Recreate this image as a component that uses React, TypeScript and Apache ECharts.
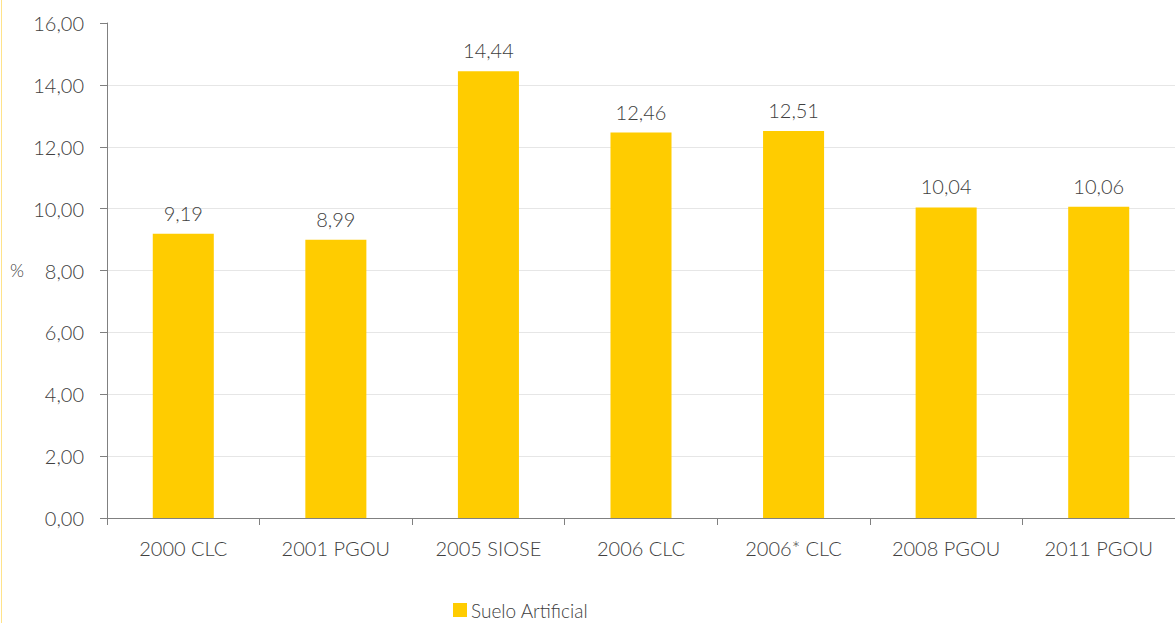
import React, { useEffect, useRef } from "react";
import * as echarts from "echarts";

const categories = ["2000 CLC", "2001 PGOU", "2005 SIOSE", "2006 CLC", "2006* CLC", "2008 PGOU", "2011 PGOU"];
const sueloArtificial = [9.19, 8.99, 14.44, 12.46, 12.51, 10.04, 10.06];
const seriesName = "Suelo Artificial";
const yAxisName = "%";

const FONT = "Lato";
const TEXT = "#404040";

export default function App() {
  const ref = useRef<HTMLDivElement>(null);
  useEffect(() => {
    if (!ref.current) return;
    const chart = echarts.init(ref.current, undefined, { renderer: "svg" });
    const fmt = (v: number) => v.toFixed(2).replace(".", ",");
    chart.setOption({
      animation: false,
      backgroundColor: "#ffffff",
      textStyle: { fontFamily: FONT, fontWeight: 300, color: TEXT },
      grid: { left: 107, right: 0, top: 23, bottom: 105, containLabel: false },
      legend: {
        left: 453,
        top: 600,
        padding: 0,
        itemWidth: 14,
        itemHeight: 14,
        itemGap: 6,
        icon: "rect",
        textStyle: { fontSize: 19, lineHeight: 20, fontFamily: FONT, fontWeight: 300, color: TEXT, padding: [0, 0, 0, -1] },
        data: [seriesName],
      },
      graphic: [
        {
          type: "line",
          shape: { x1: 1.5, y1: 0, x2: 1.5, y2: 623 },
          style: { stroke: "#ffe38a", lineWidth: 1 },
        },
        {
          type: "text",
          left: 10,
          top: 261,
          style: { text: yAxisName, fontSize: 18, fontFamily: FONT, fontWeight: 300, fill: TEXT },
        },
      ],
      xAxis: {
        type: "category",
        data: categories,
        axisLine: { lineStyle: { color: "#808080", width: 1 } },
        axisTick: { show: true, length: 7, alignWithLabel: false, lineStyle: { color: "#808080" } },
        axisLabel: { fontSize: 20, color: TEXT, fontFamily: FONT, fontWeight: 300, margin: 20 },
      },
      yAxis: {
        type: "value",
        min: 0,
        max: 16,
        interval: 2,
        axisLine: { show: true, lineStyle: { color: "#808080", width: 1 } },
        axisTick: { show: true, length: 7, lineStyle: { color: "#808080" } },
        axisLabel: {
          fontSize: 20,
          color: TEXT,
          fontFamily: FONT,
          fontWeight: 300,
          margin: 23,
          formatter: (v: number) => fmt(v),
        },
        splitLine: { show: true, showMaxLine: false, lineStyle: { color: "#e6e6e6", width: 1 } },
      },
      series: [
        {
          name: seriesName,
          type: "bar",
          data: sueloArtificial,
          barWidth: "40%",
          itemStyle: { color: "#ffcc00" },
          label: {
            show: true,
            position: "top",
            distance: 11,
            fontSize: 20,
            color: TEXT,
            fontFamily: FONT,
            fontWeight: 300,
            formatter: (p: any) => fmt(p.value),
          },
        },
      ],
    });
    return () => chart.dispose();
  }, []);
  return (
    <div style={{ position: "fixed", left: 0, top: 0, width: 1175, height: 623 }}>
      <div ref={ref} style={{ width: 1175, height: 623 }} />
    </div>
  );
}
